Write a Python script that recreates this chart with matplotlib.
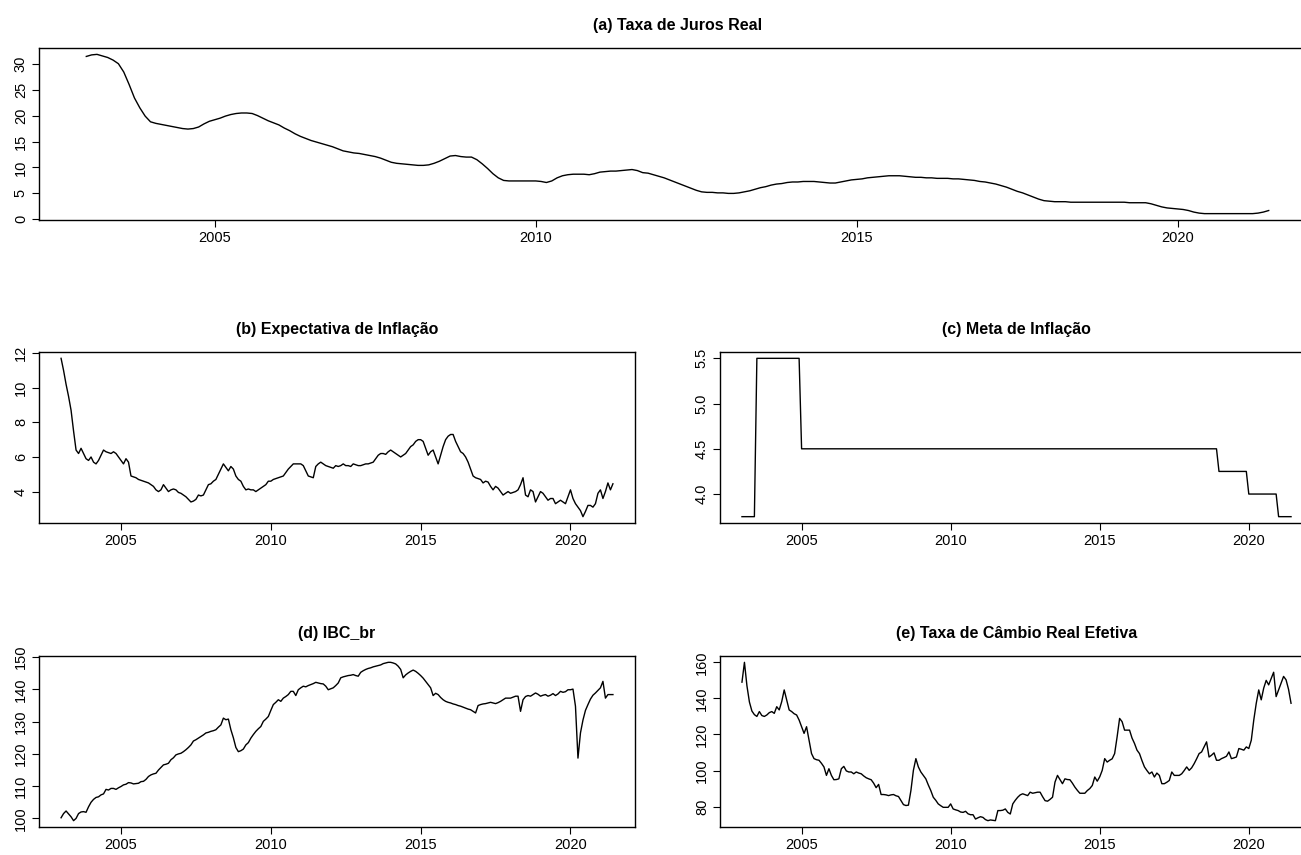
import numpy as np
import matplotlib
matplotlib.use("Agg")
import matplotlib.pyplot as plt

# Séries mensais de jan/2003 a jun/2021
inicio = 2003

# (a) Taxa de Juros Real
juros_real = [
    31.4, 31.7, 31.8, 31.5, 31.2, 30.7, 30.0, 28.4, 26.0, 23.4, 21.5, 19.9,   # 2003
    18.8, 18.5, 18.3, 18.1, 17.9, 17.7, 17.5, 17.4, 17.5, 17.8, 18.4, 18.9,   # 2004
    19.2, 19.5, 19.9, 20.2, 20.4, 20.5, 20.5, 20.4, 20.0, 19.5, 19.0, 18.6,   # 2005
    18.2, 17.6, 17.1, 16.5, 16.0, 15.6, 15.2, 14.9, 14.6, 14.3, 14.0, 13.6,   # 2006
    13.2, 13.0, 12.8, 12.7, 12.5, 12.3, 12.1, 11.8, 11.4, 11.0, 10.8, 10.7,   # 2007
    10.6, 10.5, 10.4, 10.4, 10.5, 10.8, 11.2, 11.7, 12.2, 12.3, 12.1, 12.0,   # 2008
    12.0, 11.5, 10.7, 9.8, 8.8, 8.0, 7.5, 7.4, 7.4, 7.4, 7.4, 7.4,            # 2009
    7.4, 7.3, 7.1, 7.4, 8.0, 8.4, 8.6, 8.7, 8.7, 8.7, 8.6, 8.8,               # 2010
    9.1, 9.2, 9.3, 9.3, 9.4, 9.5, 9.6, 9.4, 9.0, 8.9, 8.6, 8.3,               # 2011
    8.0, 7.6, 7.2, 6.8, 6.4, 6.0, 5.6, 5.3, 5.2, 5.2, 5.1, 5.1,               # 2012
    5.0, 5.0, 5.1, 5.3, 5.5, 5.8, 6.1, 6.3, 6.6, 6.8, 6.9, 7.1,               # 2013
    7.2, 7.2, 7.3, 7.3, 7.3, 7.2, 7.1, 7.0, 7.0, 7.2, 7.4, 7.6,               # 2014
    7.7, 7.8, 8.0, 8.1, 8.2, 8.3, 8.4, 8.4, 8.4, 8.3, 8.2, 8.1,               # 2015
    8.1, 8.0, 8.0, 7.9, 7.9, 7.9, 7.8, 7.8, 7.7, 7.6, 7.5, 7.3,               # 2016
    7.2, 7.0, 6.8, 6.5, 6.2, 5.8, 5.4, 5.1, 4.7, 4.3, 3.9, 3.6,               # 2017
    3.5, 3.4, 3.4, 3.4, 3.3, 3.3, 3.3, 3.3, 3.3, 3.3, 3.3, 3.3,               # 2018
    3.3, 3.3, 3.3, 3.2, 3.2, 3.2, 3.2, 3.0, 2.7, 2.4, 2.2, 2.1,               # 2019
    2.0, 1.9, 1.7, 1.4, 1.2, 1.1, 1.1, 1.1, 1.1, 1.1, 1.1, 1.1,               # 2020
    1.1, 1.1, 1.1, 1.2, 1.4, 1.7,                                             # 2021
]

# (b) Expectativa de Inflação
expectativa = [
    11.7, 11.0, 10.2, 9.5, 8.7, 7.5, 6.4, 6.2, 6.5, 6.2, 5.9, 5.8,
    6.0, 5.7, 5.6, 5.8, 6.1, 6.4, 6.3, 6.25, 6.2, 6.3, 6.2, 6.0,
    5.8, 5.6, 5.9, 5.7, 4.9, 4.85, 4.8, 4.7, 4.65, 4.6, 4.55, 4.5,
    4.4, 4.3, 4.1, 4.0, 4.1, 4.4, 4.2, 4.0, 4.1, 4.15, 4.1, 3.95,
    3.9, 3.8, 3.7, 3.55, 3.4, 3.45, 3.55, 3.8, 3.75, 3.8, 4.1, 4.4,
    4.45, 4.6, 4.7, 5.0, 5.3, 5.6, 5.4, 5.2, 5.45, 5.3, 4.9, 4.7,
    4.6, 4.3, 4.1, 4.15, 4.1, 4.1, 4.0, 4.1, 4.2, 4.3, 4.4, 4.6,
    4.6, 4.7, 4.75, 4.8, 4.85, 4.9, 5.1, 5.3, 5.45, 5.6, 5.6, 5.6,
    5.6, 5.5, 5.2, 4.9, 4.85, 4.8, 5.45, 5.6, 5.7, 5.6, 5.5, 5.45,
    5.4, 5.35, 5.5, 5.45, 5.5, 5.6, 5.5, 5.5, 5.45, 5.6, 5.55, 5.5,
    5.5, 5.55, 5.6, 5.6, 5.65, 5.7, 5.9, 6.1, 6.2, 6.2, 6.15, 6.3,
    6.4, 6.3, 6.2, 6.1, 6.0, 6.1, 6.2, 6.4, 6.6, 6.7, 6.9, 7.0,
    7.0, 6.9, 6.5, 6.1, 6.3, 6.4, 6.0, 5.6, 6.1, 6.6, 7.0, 7.2,
    7.3, 7.3, 6.9, 6.6, 6.3, 6.2, 6.0, 5.7, 5.3, 4.9, 4.8, 4.75,
    4.7, 4.5, 4.6, 4.55, 4.3, 4.1, 4.3, 4.2, 4.0, 3.8, 3.9, 4.0,
    3.9, 3.95, 4.0, 4.1, 4.4, 4.8, 3.8, 3.7, 4.1, 4.0, 3.4, 3.7,
    4.0, 3.9, 3.7, 3.5, 3.6, 3.6, 3.3, 3.4, 3.5, 3.4, 3.3, 3.7,
    4.1, 3.6, 3.3, 3.1, 2.9, 2.55, 2.85, 3.2, 3.2, 3.1, 3.3, 3.9,
    4.1, 3.6, 4.0, 4.5, 4.1, 4.45,
]

# (c) Meta de Inflação: mês e valor em cada ponto de mudança
meta_meses = ["2003-01", "2003-06", "2003-07", "2004-12", "2005-01", "2018-12",
              "2019-01", "2019-12", "2020-01", "2020-12", "2021-01", "2021-06"]
meta_valores = [3.75, 3.75, 5.5, 5.5, 4.5, 4.5, 4.25, 4.25, 4.0, 4.0, 3.75, 3.75]

# (d) IBC_br
ibc_br = [
    100.2, 101.5, 102.3, 101.4, 100.5, 99.3, 100.0, 101.5, 102.0, 102.1, 101.9, 103.6,
    105.0, 105.9, 106.5, 106.7, 107.3, 107.6, 109.0, 108.8, 109.3, 109.3, 109.0, 109.5,
    109.9, 110.4, 110.6, 111.1, 111.0, 110.7, 110.8, 110.9, 111.4, 111.5, 112.1, 113.0,
    113.5, 113.8, 114.0, 115.0, 115.8, 116.6, 116.8, 117.1, 118.2, 118.8, 119.7, 120.0,
    120.2, 120.7, 121.3, 122.0, 122.8, 124.0, 124.4, 124.9, 125.4, 125.9, 126.5, 126.7,
    127.0, 127.2, 127.5, 128.3, 129.0, 131.1, 130.6, 130.8, 127.5, 125.0, 122.0, 120.7,
    121.0, 121.5, 122.8, 123.5, 124.9, 126.0, 127.0, 127.8, 128.5, 130.1, 130.8, 131.6,
    133.5, 135.3, 136.0, 136.8, 136.3, 137.3, 137.8, 138.4, 139.4, 139.4, 138.1, 139.9,
    140.5, 141.0, 140.8, 141.2, 141.5, 141.8, 142.2, 142.0, 141.8, 141.7, 141.0, 139.9,
    140.2, 140.5, 141.2, 142.0, 143.6, 143.9, 144.1, 144.3, 144.4, 144.6, 144.3, 144.1,
    145.3, 145.8, 146.2, 146.5, 146.7, 147.0, 147.2, 147.4, 147.6, 148.0, 148.2, 148.4,
    148.4, 148.2, 147.9, 147.2, 146.2, 143.6, 144.5, 145.1, 145.6, 146.0, 145.6, 145.0,
    144.3, 143.5, 142.5, 141.5, 140.5, 138.1, 138.8, 138.4, 137.5, 136.8, 136.3, 136.0,
    135.8, 135.5, 135.3, 135.0, 134.8, 134.5, 134.2, 133.9, 133.7, 133.2, 132.7, 135.0,
    135.3, 135.5, 135.6, 135.8, 136.0, 135.8, 135.6, 135.9, 136.3, 136.8, 137.3, 137.3,
    137.3, 137.6, 137.9, 137.9, 133.2, 136.8, 137.8, 138.1, 137.9, 138.4, 138.9, 138.5,
    137.9, 138.2, 138.4, 137.9, 138.2, 138.7, 138.1, 138.6, 139.4, 139.1, 139.3, 139.9,
    139.9, 140.1, 134.8, 118.7, 126.5, 130.5, 133.5, 135.3, 137.0, 138.2, 138.9, 139.7,
    140.5, 142.5, 137.3, 138.4, 138.4, 138.4,
]

# (e) Taxa de Câmbio Real Efetiva
cambio = [
    149.0, 160.0, 147.0, 138.0, 133.0, 131.0, 130.0, 132.7, 130.5, 130.0, 130.8, 132.1,
    132.7, 131.7, 135.4, 133.6, 138.2, 144.7, 139.2, 133.6, 132.7, 131.5, 130.8, 128.0,
    124.3, 120.6, 124.3, 116.8, 109.4, 106.6, 106.0, 105.7, 104.0, 102.0, 97.3, 101.0,
    97.3, 94.9, 95.0, 95.4, 101.0, 102.3, 99.8, 99.2, 99.2, 98.2, 99.2, 98.6,
    98.2, 97.0, 96.0, 95.4, 94.9, 93.0, 90.5, 92.3, 86.7, 86.7, 86.5, 86.1,
    86.5, 86.7, 86.0, 85.6, 83.3, 81.1, 80.6, 80.8, 88.9, 100.1, 106.6, 102.0,
    99.2, 97.3, 95.4, 92.0, 88.9, 85.2, 83.5, 81.5, 80.5, 79.6, 79.6, 79.6,
    81.5, 78.7, 78.2, 77.8, 77.0, 76.8, 77.4, 76.0, 75.5, 75.5, 73.1, 73.8,
    74.4, 74.0, 72.8, 72.2, 72.6, 72.4, 72.2, 77.8, 77.8, 78.0, 78.7, 76.8,
    75.9, 81.5, 83.5, 85.2, 86.5, 87.1, 86.6, 86.1, 88.0, 87.4, 87.7, 88.0,
    88.0, 85.5, 83.3, 83.0, 84.0, 85.2, 93.6, 97.3, 95.0, 92.7, 95.4, 95.0,
    94.9, 93.0, 90.8, 89.0, 87.4, 87.4, 87.4, 88.9, 90.0, 91.7, 96.4, 94.1,
    96.5, 100.1, 106.6, 104.7, 105.7, 106.5, 109.4, 118.7, 128.9, 127.1, 122.4, 122.4,
    122.4, 118.0, 115.0, 111.3, 109.4, 105.5, 102.0, 100.0, 98.2, 99.2, 96.4, 98.6,
    97.3, 92.7, 92.7, 93.5, 94.5, 99.2, 97.3, 97.3, 97.3, 98.2, 100.0, 102.0,
    100.1, 101.5, 103.8, 106.5, 109.4, 110.3, 113.1, 115.9, 107.5, 108.5, 109.8, 105.7,
    105.7, 106.6, 107.2, 107.9, 110.3, 106.6, 107.0, 107.5, 112.2, 111.8, 111.3, 113.1,
    112.2, 116.8, 128.0, 137.3, 144.7, 139.2, 145.7, 150.0, 147.5, 151.0, 154.5, 141.0,
    144.7, 148.5, 152.2, 150.3, 145.0, 137.3,
]

anos_ticks = [2005, 2010, 2015, 2020]


def tempo(serie):
    # eixo de tempo igual ao de um ts mensal do R
    return inicio + np.arange(len(serie)) / 12


def mes_decimal(txt):
    ano, mes = txt.split("-")
    return int(ano) + (int(mes) - 1) / 12


plt.rcParams['font.family'] = ['Liberation Sans Narrow', 'Liberation Sans', 'DejaVu Sans']

W, H = 1301, 855
fig = plt.figure(figsize=(W / 100, H / 100), dpi=100)


def caixa(esq, topo, dir, base):
    # posição do painel em pixels da figura
    return fig.add_axes([esq / W, 1 - base / H, (dir - esq) / W, (base - topo) / H])


def estilo_r(ax, titulo, yticks):
    # imita o visual do plot() base do R
    ax.margins(x=0.04, y=0.04)
    ax.set_xticks(anos_ticks)
    ax.set_yticks(yticks)
    ax.tick_params(direction='out', length=5, width=0.8, labelsize=10.5, pad=3)
    for lab in ax.get_yticklabels():
        lab.set_rotation(90)
        lab.set_va('center')
    for s in ax.spines.values():
        s.set_linewidth(1.0)
    ax.set_title(titulo, fontweight='bold', fontsize=11.5, pad=13)


ax_a = caixa(39, 48, 1316, 220)
ax_a.plot(tempo(juros_real), juros_real, color='black', lw=1.0)
estilo_r(ax_a, "(a) Taxa de Juros Real", [0, 5, 10, 15, 20, 25, 30])

ax_b = caixa(39, 352, 635, 523)
ax_b.plot(tempo(expectativa), expectativa, color='black', lw=1.0)
estilo_r(ax_b, "(b) Expectativa de Inflação", [4, 6, 8, 10, 12])

ax_c = caixa(720, 352, 1313, 523)
ax_c.plot([mes_decimal(m) for m in meta_meses], meta_valores, color='black', lw=1.0)
estilo_r(ax_c, "(c) Meta de Inflação", [4.0, 4.5, 5.0, 5.5])

ax_d = caixa(39, 656, 635, 827)
ax_d.plot(tempo(ibc_br), ibc_br, color='black', lw=1.0)
estilo_r(ax_d, "(d) IBC_br", [100, 110, 120, 130, 140, 150])

ax_e = caixa(720, 656, 1313, 827)
ax_e.plot(tempo(cambio), cambio, color='black', lw=1.0)
estilo_r(ax_e, "(e) Taxa de Câmbio Real Efetiva", [80, 100, 120, 140, 160])

fig.savefig("out.png", dpi=100)
